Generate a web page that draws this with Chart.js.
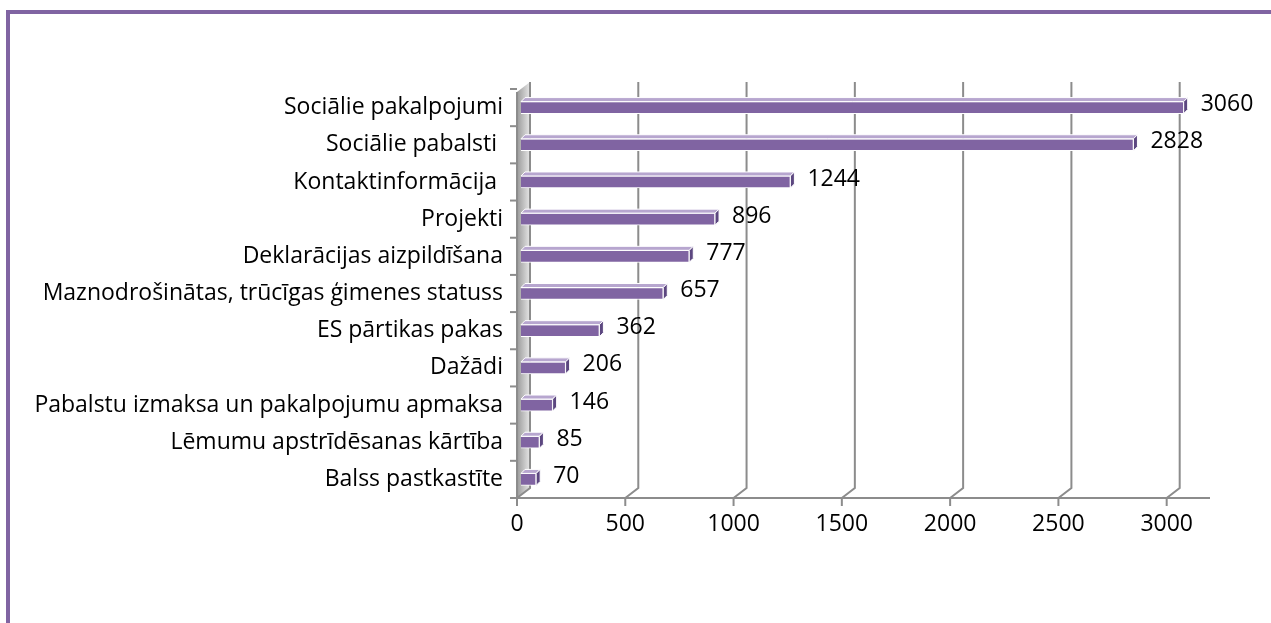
<!DOCTYPE html>
<html>
<head>
<meta charset="utf-8">
<script src="https://cdn.jsdelivr.net/npm/chart.js@4"></script>
<style>
html,body{margin:0;padding:0;background:#fff;overflow:hidden}
#frame{position:absolute;left:6px;top:10px;width:1400px;height:800px;border:4px solid #8064A2;box-sizing:border-box}
#wrap{position:absolute;left:0;top:0;width:1271px;height:623px}
</style>
</head>
<body>
<div id="frame"></div>
<div id="wrap"><canvas id="c" width="1271" height="623"></canvas></div>
<script>
const categories=["Sociālie pakalpojumi","Sociālie pabalsti ","Kontaktinformācija ","Projekti","Deklarācijas aizpildīšana","Maznodrošinātas, trūcīgas ģimenes statuss","ES pārtikas pakas","Dažādi","Pabalstu izmaksa un pakalpojumu apmaksa","Lēmumu apstrīdēsanas kārtība","Balss pastkastīte"]
const values=[3060,2828,1244,896,777,657,362,206,146,85,70]
const tickValues=[0,500,1000,1500,2000,2500,3000]

const font="'Open Sans', sans-serif"
const fontSize=23
const depth=13
const shift=4
const gridColor="#8c8c8c"

// back wall, floor and axis lines in a fake 3D style
const wallPlugin={
id:"wall",
beforeDatasetsDraw(chart){
const ctx=chart.ctx
const x=chart.scales.x, a=chart.chartArea
const x0=x.getPixelForValue(0)
const bottom=a.bottom, top=a.top-7
ctx.save()
// left side wall
let g=ctx.createLinearGradient(x0,0,x0+depth,0)
g.addColorStop(0,"#9a9a9a")
g.addColorStop(1,"#e6e6e6")
ctx.fillStyle=g
ctx.beginPath()
ctx.moveTo(x0,bottom)
ctx.lineTo(x0,top+depth-3)
ctx.lineTo(x0+depth,top)
ctx.lineTo(x0+depth,bottom-10)
ctx.closePath()
ctx.fill()
ctx.strokeStyle=gridColor
ctx.lineWidth=2
tickValues.forEach(v=>{
let px=x.getPixelForValue(v)
ctx.beginPath()
ctx.moveTo(px,bottom)
ctx.lineTo(px+depth,bottom-10)
ctx.lineTo(px+depth,top)
ctx.stroke()
})
// x axis line
ctx.beginPath()
ctx.moveTo(x0,bottom)
ctx.lineTo(a.right,bottom)
ctx.stroke()
// y axis line
ctx.beginPath()
ctx.moveTo(x0,bottom)
ctx.lineTo(x0,top+depth-3)
ctx.stroke()
// x ticks
tickValues.forEach(v=>{
let px=x.getPixelForValue(v)
ctx.beginPath()
ctx.moveTo(px,bottom)
ctx.lineTo(px,bottom+8)
ctx.stroke()
})
// y ticks at category boundaries
let n=categories.length
let band=(bottom-a.top)/n
for(let i=0;i<=n;i++){
let py=a.top+band*i
ctx.beginPath()
ctx.moveTo(x0-7,py)
ctx.lineTo(x0,py)
ctx.stroke()
}
ctx.restore()
// bars sit a little in front of the wall
ctx.save()
ctx.translate(shift,0)
},
afterDatasetsDraw(chart){
chart.ctx.restore()
}
}

// top and side faces of each bar plus the value labels
const barPlugin={
id:"bar3d",
afterDatasetsDraw(chart){
const ctx=chart.ctx
const meta=chart.getDatasetMeta(0)
const d=4
ctx.save()
meta.data.forEach((bar,i)=>{
let p=bar.getProps(["x","y","base","height"],true)
let bx=p.x+shift, bb=p.base+shift
let t=p.y-p.height/2, b=p.y+p.height/2
ctx.fillStyle="#B7A6CF"
ctx.strokeStyle="#ffffff"
ctx.lineWidth=1
ctx.beginPath()
ctx.moveTo(bb,t)
ctx.lineTo(bb+d,t-d)
ctx.lineTo(bx+d,t-d)
ctx.lineTo(bx,t)
ctx.closePath()
ctx.fill()
ctx.stroke()
ctx.fillStyle="#5C4780"
ctx.beginPath()
ctx.moveTo(bx,t)
ctx.lineTo(bx+d,t-d)
ctx.lineTo(bx+d,b-d)
ctx.lineTo(bx,b)
ctx.closePath()
ctx.fill()
ctx.stroke()
ctx.fillStyle="#000"
ctx.font=fontSize+"px "+font
ctx.textAlign="left"
ctx.textBaseline="middle"
ctx.fillText(values[i],bx+17,p.y-3)
})
ctx.restore()
}
}

new Chart(document.getElementById("c"),{
type:"bar",
data:{
labels:categories,
datasets:[{
data:values,
backgroundColor:"#8064A2",
borderColor:"#ffffff",
borderWidth:1,
barThickness:12
}]
},
options:{
indexAxis:"y",
responsive:false,
animation:false,
layout:{padding:{left:0,right:61,top:89,bottom:0}},
plugins:{legend:{display:false},tooltip:{enabled:false}},
scales:{
x:{
min:0,max:3200,
afterBuildTicks(s){s.ticks=tickValues.map(v=>({value:v}))},
afterFit(s){s.height=125},
grid:{display:false,drawTicks:false},
border:{display:false},
ticks:{color:"#000",font:{family:font,size:fontSize},padding:13,callback:v=>String(v)}
},
y:{
afterFit(s){s.width=517},
grid:{display:false,drawTicks:false},
border:{display:false},
ticks:{color:"#000",font:{family:font,size:fontSize},padding:14}
}
}
},
plugins:[wallPlugin,barPlugin]
})
</script>
</body>
</html>
